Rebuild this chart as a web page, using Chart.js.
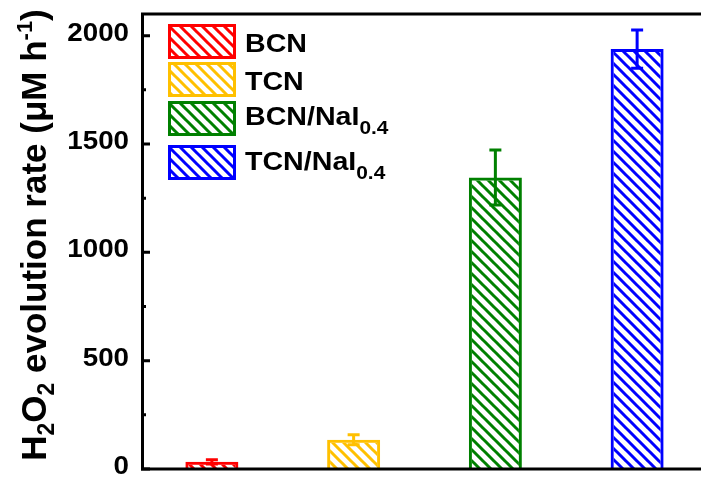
<!DOCTYPE html>
<html>
<head>
<meta charset="utf-8">
<script src="https://cdn.jsdelivr.net/npm/chart.js@4.4.0/dist/chart.umd.min.js"></script>
<style>
    html, body { margin: 0; padding: 0; background: #fff; overflow: hidden; }
    #wrap { width: 712px; height: 477px; position: relative; }
</style>
</head>
<body>
<div id="wrap"><canvas id="rate_chart"></canvas></div>
<script>
const categories = ["BCN", "TCN", "BCN/NaI0.4", "TCN/NaI0.4"]
const legendNames = ["BCN", "TCN", "BCN/NaI", "TCN/NaI"]
const legendSubs = ["", "", "0.4", "0.4"]
const rateValues = [33, 135, 1345, 1938]
const rateErrors = [10, 23, 127, 88]
const barColors = ["#ff0000", "#ffc000", "#008000", "#0000ff"]
const yTickValues = [0, 500, 1000, 1500, 2000]
const yMin = 0
const yMax = 2100
const yStep = 500

const FONT = '"Liberation Sans", Arial, sans-serif'

function makeHatch(color) {
    const s = 11
    const c = document.createElement("canvas")
    c.width = s
    c.height = s
    const g = c.getContext("2d")
    g.strokeStyle = color
    g.lineWidth = 3
    g.beginPath()
    for (let k = -s; k <= s; k += s) {
        g.moveTo(k - 1, -1)
        g.lineTo(k + s + 1, s + 1)
    }
    g.stroke()
    return g.createPattern(c, "repeat")
}

// text pieces: {t, size, dy}, drawn left to right, sx stretches horizontally
function drawRich(ctx, parts, x, y, sx) {
    ctx.save()
    ctx.translate(x, y)
    ctx.scale(sx, 1)
    let cx = 0
    for (const p of parts) {
        ctx.font = `bold ${p.size}px ${FONT}`
        ctx.fillText(p.t, cx, p.dy || 0)
        cx += ctx.measureText(p.t).width
    }
    ctx.restore()
}

function richWidth(ctx, parts) {
    let w = 0
    for (const p of parts) {
        ctx.font = `bold ${p.size}px ${FONT}`
        w += ctx.measureText(p.t).width
    }
    return w
}

const errorBars = {
    id: "errorBars",
    afterDatasetsDraw(chart) {
        const ctx = chart.ctx
        const y = chart.scales.y
        const meta = chart.getDatasetMeta(0)
        ctx.save()
        ctx.lineWidth = 3
        meta.data.forEach((bar, i) => {
            const top = y.getPixelForValue(rateValues[i] + rateErrors[i])
            const bot = y.getPixelForValue(rateValues[i] - rateErrors[i])
            ctx.strokeStyle = barColors[i]
            ctx.beginPath()
            ctx.moveTo(bar.x, top)
            ctx.lineTo(bar.x, bot)
            ctx.moveTo(bar.x - 6, top)
            ctx.lineTo(bar.x + 6, top)
            ctx.moveTo(bar.x - 6, bot)
            ctx.lineTo(bar.x + 6, bot)
            ctx.stroke()
        })
        ctx.restore()
    }
}

const frameAndLabels = {
    id: "frameAndLabels",
    afterDraw(chart) {
        const ctx = chart.ctx
        const a = chart.chartArea
        const y = chart.scales.y
        ctx.save()
        ctx.strokeStyle = "#000"
        ctx.fillStyle = "#000"
        ctx.lineWidth = 3
        ctx.beginPath()
        ctx.moveTo(a.left + 1.5, a.top)
        ctx.lineTo(a.right, a.top)
        ctx.moveTo(a.left + 1.5, a.top - 1.5)
        ctx.lineTo(a.left + 1.5, a.bottom + 1.5)
        ctx.moveTo(a.left, a.bottom)
        ctx.lineTo(a.right, a.bottom)
        ctx.stroke()

        // inward ticks, major and minor
        ctx.beginPath()
        for (let v = yMin; v <= yMax; v += yStep / 2) {
            const py = y.getPixelForValue(v)
            const len = (v % yStep === 0) ? 9 : 5
            ctx.moveTo(a.left, py)
            ctx.lineTo(a.left + len, py)
        }
        ctx.stroke()

        // tick labels
        ctx.textBaseline = "middle"
        y.ticks.forEach(t => {
            const py = y.getPixelForValue(t.value)
            const s = String(t.value)
            ctx.font = `bold 25px ${FONT}`
            const w = ctx.measureText(s).width * 1.11
            drawRich(ctx, [{t: s, size: 25}], 129 - w, py - 2, 1.11)
        })

        // axis title
        ctx.textBaseline = "alphabetic"
        const title = [
            {t: "H", size: 35}, {t: "2", size: 23, dy: 8},
            {t: "O", size: 35}, {t: "2", size: 23, dy: 8},
            {t: " evolution rate (\u03bcM h", size: 35},
            {t: "-1", size: 22, dy: -14},
            {t: ")", size: 35}
        ]
        ctx.save()
        ctx.translate(46, 235)
        ctx.rotate(-Math.PI / 2)
        const tw = richWidth(ctx, title)
        drawRich(ctx, title, -tw / 2, 0, 1)
        ctx.restore()

        // legend
        const rowTops = [10, 48, 87, 131]
        const baseOff = [28, 28, 24, 25]
        rowTops.forEach((rt, i) => {
            const bx = a.left + 27
            const by = a.top + rt
            ctx.fillStyle = chart.data.datasets[0].backgroundColor[i]
            ctx.fillRect(bx, by, 68, 35)
            ctx.strokeStyle = barColors[i]
            ctx.lineWidth = 3
            ctx.strokeRect(bx + 1.5, by + 1.5, 65, 32)
            ctx.fillStyle = "#000"
            const parts = [{t: legendNames[i], size: 26}]
            if (legendSubs[i]) parts.push({t: legendSubs[i], size: 19, dy: 9})
            drawRich(ctx, parts, bx + 77, by + baseOff[i], 1.1)
        })
        ctx.restore()
    }
}

const ctx = document.querySelector("#rate_chart")

new Chart(ctx, {
    type: "bar",
    data: {
        labels: categories,
        datasets: [{
            label: "H2O2 evolution rate",
            data: rateValues,
            backgroundColor: barColors.map(makeHatch),
            borderColor: barColors,
            borderWidth: 3,
            barPercentage: 0.374,
            categoryPercentage: 1
        }]
    },
    options: {
        responsive: true,
        maintainAspectRatio: false,
        animation: false,
        layout: { padding: { top: 14, right: 4, left: 0, bottom: 0 } },
        plugins: {
            legend: { display: false },
            tooltip: { enabled: false }
        },
        scales: {
            x: {
                ticks: { display: false },
                grid: { display: false },
                border: { display: false },
                afterFit: (s) => { s.height = 8 }
            },
            y: {
                min: yMin,
                max: yMax,
                ticks: { display: false },
                grid: { display: false },
                border: { display: false },
                afterBuildTicks: (s) => { s.ticks = yTickValues.map(v => ({ value: v })) },
                afterFit: (s) => { s.width = 141 }
            }
        }
    },
    plugins: [errorBars, frameAndLabels]
})
</script>
</body>
</html>
